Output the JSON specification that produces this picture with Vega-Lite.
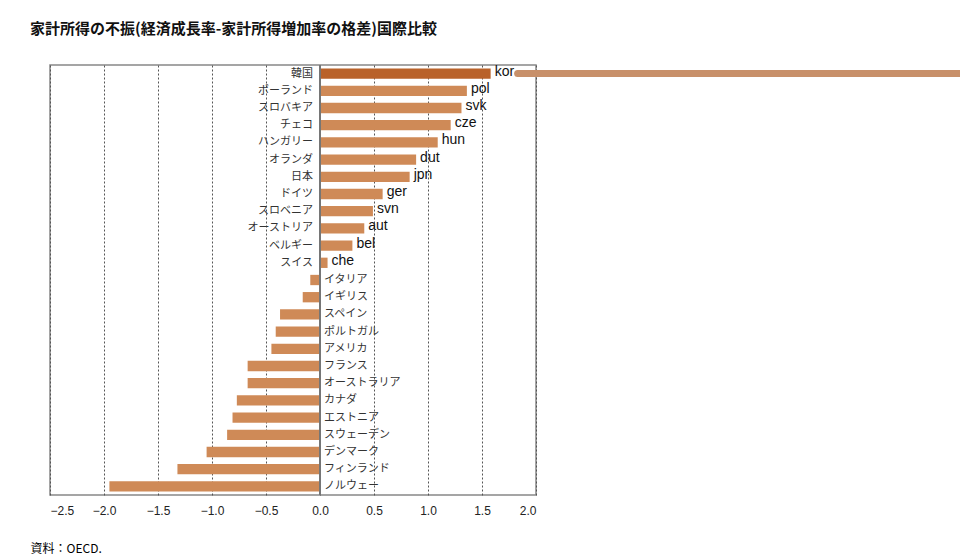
{
  "$schema": "https://vega.github.io/schema/vega-lite/v6.json",
  "autosize": "none",
  "width": 486,
  "height": 430,
  "padding": {"left": 50, "top": 65, "right": 424, "bottom": 65},
  "background": "white",
  "title": {
    "text": "家計所得の不振(経済成長率-家計所得増加率の格差)国際比較",
    "anchor": "start", "dx": 0, "offset": 28,
    "font": "Noto Sans CJK JP", "fontSize": 15, "fontWeight": "bold", "color": "#111"
  },
  "config": {"view": {"stroke": "#888", "strokeWidth": 1.5}},
  "data": {"values": [
    {"name": "韓国", "code": "kor", "v": 1.58},
    {"name": "ポーランド", "code": "pol", "v": 1.36},
    {"name": "スロバキア", "code": "svk", "v": 1.31},
    {"name": "チェコ", "code": "cze", "v": 1.21},
    {"name": "ハンガリー", "code": "hun", "v": 1.09},
    {"name": "オランダ", "code": "dut", "v": 0.89},
    {"name": "日本", "code": "jpn", "v": 0.83},
    {"name": "ドイツ", "code": "ger", "v": 0.58},
    {"name": "スロベニア", "code": "svn", "v": 0.49},
    {"name": "オーストリア", "code": "aut", "v": 0.41},
    {"name": "ベルギー", "code": "bel", "v": 0.30},
    {"name": "スイス", "code": "che", "v": 0.07},
    {"name": "イタリア", "code": "", "v": -0.09},
    {"name": "イギリス", "code": "", "v": -0.16},
    {"name": "スペイン", "code": "", "v": -0.37},
    {"name": "ポルトガル", "code": "", "v": -0.41},
    {"name": "アメリカ", "code": "", "v": -0.45},
    {"name": "フランス", "code": "", "v": -0.67},
    {"name": "オーストラリア", "code": "", "v": -0.67},
    {"name": "カナダ", "code": "", "v": -0.77},
    {"name": "エストニア", "code": "", "v": -0.81},
    {"name": "スウェーデン", "code": "", "v": -0.86},
    {"name": "デンマーク", "code": "", "v": -1.05},
    {"name": "フィンランド", "code": "", "v": -1.32},
    {"name": "ノルウェー", "code": "", "v": -1.95}
  ]},
  "encoding": {
    "y": {"field": "name", "type": "nominal", "sort": null, "axis": null, "scale": {"paddingInner": 0.4, "paddingOuter": 0.2}}
  },
  "layer": [
    {
      "mark": {"type": "bar", "clip": false},
      "encoding": {
        "x": {"field": "v", "type": "quantitative", "scale": {"domain": [-2.5, 2.0], "nice": false},
          "axis": {"values": [-2.5, -2, -1.5, -1, -0.5, 0, 0.5, 1, 1.5, 2], "format": ".1f", "grid": true, "gridDash": [2, 2], "gridColor": "#555",
            "labelFont": "Liberation Sans", "labelFontSize": 12, "labelColor": "#222", "domain": false, "ticks": false, "labelPadding": 10,
            "title": "資料：OECD.", "titleFont": "Noto Sans CJK JP", "titleFontWeight": "normal", "titleFontSize": 12, "titleAnchor": "start", "titleAlign": "left", "titleX": -20, "titleY": 48}},
        "color": {"condition": {"test": "datum.code === 'kor'", "value": "#b9622a"}, "value": "#cf8a57"}
      }
    },
    {
      "mark": {"type": "rule", "color": "#777", "strokeWidth": 1},
      "encoding": {"x": {"datum": 0}, "y": {"value": 0}, "y2": {"value": 430}}
    },
    {
      "transform": [{"filter": "datum.v > 0"}],
      "mark": {"type": "text", "font": "Noto Sans CJK JP", "fontSize": 11, "color": "#333", "align": "right", "dx": -7},
      "encoding": {
        "x": {"datum": 0},
        "text": {"field": "name"},
        "fontWeight": {"condition": {"test": "datum.code === 'kor'", "value": "bold"}, "value": "normal"}
      }
    },
    {
      "transform": [{"filter": "datum.v <= 0"}],
      "mark": {"type": "text", "font": "Noto Sans CJK JP", "fontSize": 11, "color": "#333", "align": "left", "dx": 4},
      "encoding": {"x": {"datum": 0}, "text": {"field": "name"}}
    },
    {
      "transform": [{"filter": "datum.code !== ''"}],
      "mark": {"type": "text", "font": "Liberation Sans", "fontSize": 14, "color": "#111", "align": "left", "dx": 4, "dy": -2},
      "encoding": {"x": {"field": "v", "type": "quantitative"}, "text": {"field": "code"}}
    },
    {
      "transform": [{"filter": "datum.code === 'kor'"}],
      "mark": {"type": "rule", "color": "#c8906a", "strokeWidth": 7, "strokeCap": "round", "clip": false},
      "encoding": {"x": {"datum": 1.83}, "x2": {"datum": 5.93}}
    }
  ]
}
